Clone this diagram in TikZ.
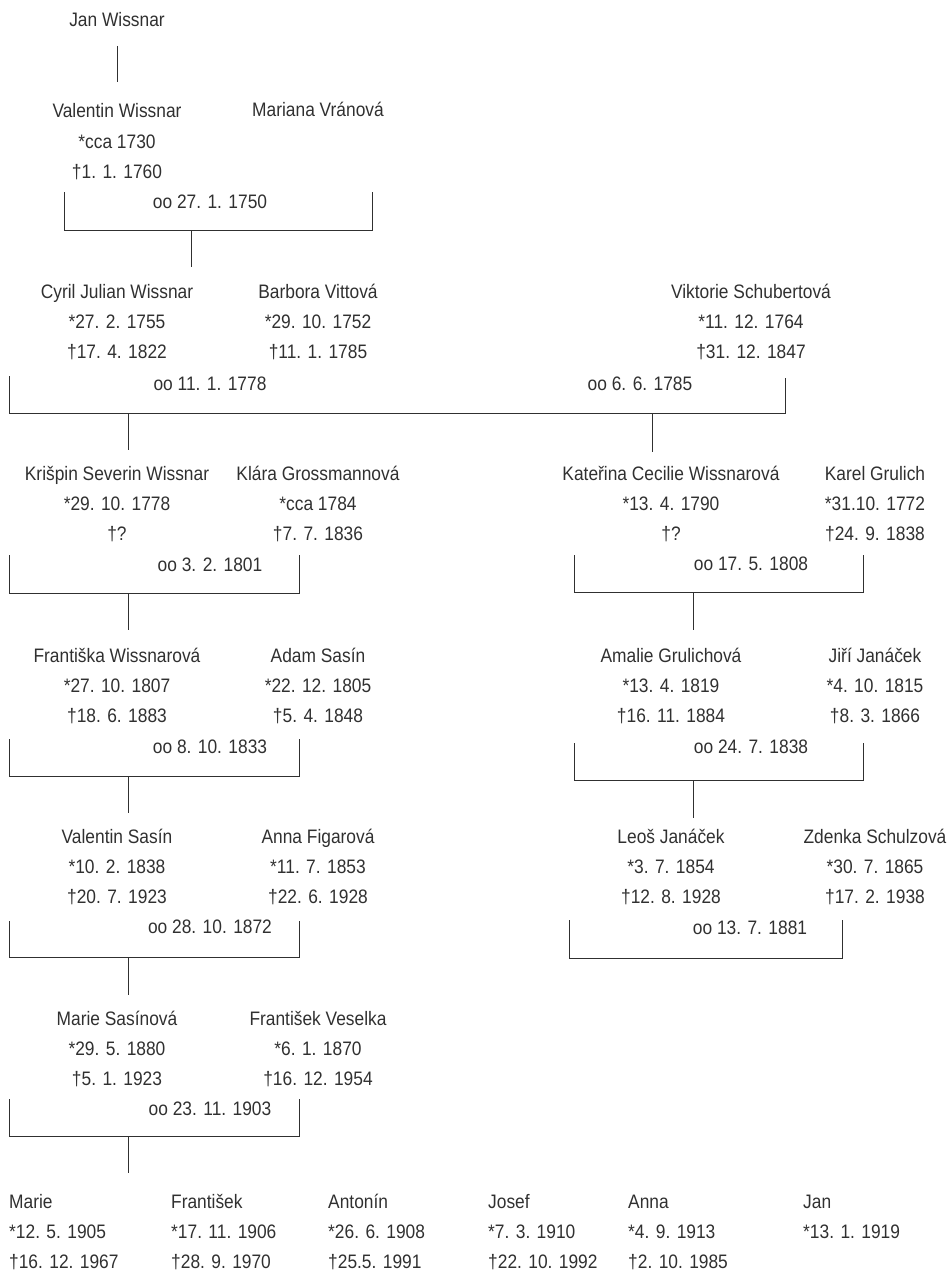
\documentclass[tikz,border=0pt]{standalone}
\usepackage{fontspec}
\setmainfont{Liberation Sans}[FakeStretch=0.89]
\definecolor{ink}{HTML}{303030}
\tikzset{
  person/.style={align=center, anchor=base, inner sep=0pt, text=ink,
    font=\fontsize{19.5}{30}\selectfont},
  child/.style={person, align=left, anchor=base west},
  wed/.style={anchor=base, inner sep=0pt, text=ink, font=\fontsize{19.5}{30}\selectfont},
  tie/.style={draw=ink, line width=1pt}
}
\begin{document}
\begin{tikzpicture}[x=1pt, y=-1pt]
  \useasboundingbox (0,0) rectangle (950,1271);
  % generation 1 (nodes sit on the baseline of their last line)
  \node[person] (janW) at (117,27) {Jan Wissnar};
  \node[person] (valentinW) at (117,178) {Valentin Wissnar\\*cca 1730\\†1. 1. 1760};
  \node[person] (mariana) at (318,117) {Mariana Vránová};
  \node[wed] (oo1) at (210,208) {oo 27. 1. 1750};
  \coordinate (j1) at (117,46);
  \draw[tie] (j1) -- ++(0,36);
  \coordinate (b1) at (191,230);
  \draw[tie] (64,192) |- (372,230) -- (372,192);
  \draw[tie] (b1) -- ++(0,37);
  % generation 2
  \node[person] (cyril) at (117,358) {Cyril Julian Wissnar\\*27. 2. 1755\\†17. 4. 1822};
  \node[person] (barbora) at (318,358) {Barbora Vittová\\*29. 10. 1752\\†11. 1. 1785};
  \node[person] (viktorie) at (751,358) {Viktorie Schubertová\\*11. 12. 1764\\†31. 12. 1847};
  \node[wed] (oo2) at (210,390) {oo 11. 1. 1778};
  \node[wed] (oo3) at (640,390) {oo 6. 6. 1785};
  \coordinate (b2) at (128,413);
  \coordinate (b3) at (652,413);
  \draw[tie] (9,376) |- (785,413) -- (785,378);
  \draw[tie] (b2) -- ++(0,37);
  \draw[tie] (b3) -- ++(0,39);
  % generation 3
  \node[person] (krispin) at (117,540) {Krišpin Severin Wissnar\\*29. 10. 1778\\†?};
  \node[person] (klara) at (318,540) {Klára Grossmannová\\*cca 1784\\†7. 7. 1836};
  \node[person] (katerina) at (671,540) {Kateřina Cecilie Wissnarová\\*13. 4. 1790\\†?};
  \node[person] (karel) at (875,540) {Karel Grulich\\*31.10. 1772\\†24. 9. 1838};
  \node[wed] (oo4) at (210,571) {oo 3. 2. 1801};
  \node[wed] (oo5) at (751,570) {oo 17. 5. 1808};
  \coordinate (b4) at (128,593);
  \coordinate (b5) at (693,592);
  \draw[tie] (9,555) |- (299,593) -- (299,555);
  \draw[tie] (574,555) |- (863,592) -- (863,555);
  \draw[tie] (b4) -- ++(0,37);
  \draw[tie] (b5) -- ++(0,38);
  % generation 4
  \node[person] (frantiska) at (117,722) {Františka Wissnarová\\*27. 10. 1807\\†18. 6. 1883};
  \node[person] (adam) at (318,722) {Adam Sasín\\*22. 12. 1805\\†5. 4. 1848};
  \node[person] (amalie) at (671,722) {Amalie Grulichová\\*13. 4. 1819\\†16. 11. 1884};
  \node[person] (jiri) at (875,722) {Jiří Janáček\\*4. 10. 1815\\†8. 3. 1866};
  \node[wed] (oo6) at (210,753) {oo 8. 10. 1833};
  \node[wed] (oo7) at (751,753) {oo 24. 7. 1838};
  \coordinate (b6) at (128,776);
  \coordinate (b7) at (693,780);
  \draw[tie] (9,739) |- (299,776) -- (299,739);
  \draw[tie] (574,743) |- (863,780) -- (863,743);
  \draw[tie] (b6) -- ++(0,37);
  \draw[tie] (b7) -- ++(0,38);
  % generation 5
  \node[person] (valentinS) at (117,903) {Valentin Sasín\\*10. 2. 1838\\†20. 7. 1923};
  \node[person] (anna) at (318,903) {Anna Figarová\\*11. 7. 1853\\†22. 6. 1928};
  \node[person] (leos) at (671,903) {Leoš Janáček\\*3. 7. 1854\\†12. 8. 1928};
  \node[person] (zdenka) at (875,903) {Zdenka Schulzová\\*30. 7. 1865\\†17. 2. 1938};
  \node[wed] (oo8) at (210,933) {oo 28. 10. 1872};
  \node[wed] (oo9) at (750,934) {oo 13. 7. 1881};
  \coordinate (b8) at (128,957);
  \draw[tie] (9,921) |- (299,957) -- (299,921);
  \draw[tie] (569,920) |- (842,958) -- (842,920);
  \draw[tie] (b8) -- ++(0,38);
  % generation 6
  \node[person] (marieS) at (117,1085) {Marie Sasínová\\*29. 5. 1880\\†5. 1. 1923};
  \node[person] (frantisekV) at (318,1085) {František Veselka\\*6. 1. 1870\\†16. 12. 1954};
  \node[wed] (oo10) at (210,1115) {oo 23. 11. 1903};
  \coordinate (b9) at (128,1136);
  \draw[tie] (9,1099) |- (299,1136) -- (299,1099);
  \draw[tie] (b9) -- ++(0,37);
  % children
  \node[child] (marie) at (9,1268) {Marie\\*12. 5. 1905\\†16. 12. 1967};
  \node[child] (frantisek) at (171,1268) {František\\*17. 11. 1906\\†28. 9. 1970};
  \node[child] (antonin) at (328,1268) {Antonín\\*26. 6. 1908\\†25.5. 1991};
  \node[child] (josef) at (488,1268) {Josef\\*7. 3. 1910\\†22. 10. 1992};
  \node[child] (annaV) at (628,1268) {Anna\\*4. 9. 1913\\†2. 10. 1985};
  \node[child] (jan) at (803,1238) {Jan\\*13. 1. 1919};
\end{tikzpicture}
\end{document}
